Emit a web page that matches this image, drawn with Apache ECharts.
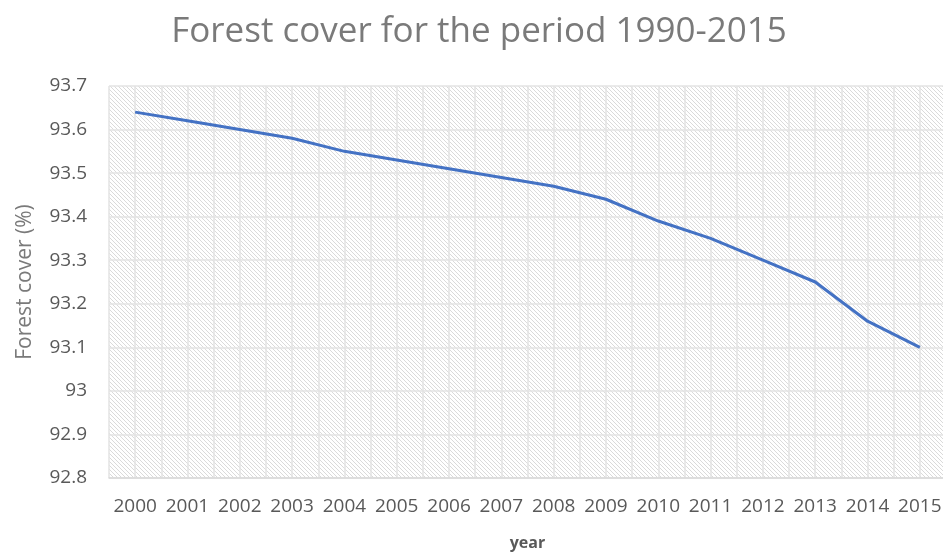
<!DOCTYPE html>
<html>
<head>
<meta charset="utf-8">
<script src="https://cdn.jsdelivr.net/npm/echarts@6/dist/echarts.min.js"></script>
<style>
  html, body { margin: 0; padding: 0; background: #fff; }
  #main { width: 943px; height: 552px; }
</style>
</head>
<body>
<div id="main"></div>
<script>
// data
const years = [2000, 2001, 2002, 2003, 2004, 2005, 2006, 2007, 2008, 2009, 2010, 2011, 2012, 2013, 2014, 2015];
const forestCover = [93.64, 93.62, 93.60, 93.58, 93.55, 93.53, 93.51, 93.49, 93.47, 93.44, 93.39, 93.35, 93.30, 93.25, 93.16, 93.10];

// diagonal hatch for the plot background
function makeHatch() {
  const c = document.createElement('canvas');
  c.width = 4; c.height = 4;
  const ctx = c.getContext('2d');
  ctx.strokeStyle = '#dadada';
  ctx.lineWidth = 1;
  ctx.beginPath();
  ctx.moveTo(-1, -1); ctx.lineTo(5, 5);
  ctx.moveTo(-1, 3); ctx.lineTo(1, 5);
  ctx.moveTo(3, -1); ctx.lineTo(5, 1);
  ctx.stroke();
  return c;
}

const chart = echarts.init(document.getElementById('main'));
const font = "'Open Sans', 'Noto Sans', sans-serif";

chart.setOption({
  animation: false,
  title: {
    text: 'Forest cover for the period 1990-2015',
    left: 474,
    textAlign: 'center',
    top: 10,
    textStyle: { fontFamily: font, fontSize: 35, fontWeight: 'normal', color: '#7a7a7a' }
  },
  grid: {
    left: 109, top: 86, width: 837, height: 392,
    outerBoundsMode: 'none',
    containLabel: false,
    show: true,
    borderWidth: 0,
    backgroundColor: { image: makeHatch(), repeat: 'repeat' }
  },
  xAxis: {
    type: 'value',
    min: 1999.5,
    max: 2015.5,
    interval: 0.5,
    name: 'year',
    nameLocation: 'middle',
    nameGap: 57,
    nameTextStyle: { fontFamily: font, fontSize: 16, fontWeight: 'bold', color: '#595959' },
    axisLine: { show: true, lineStyle: { color: '#d9d9d9', width: 1.5 } },
    axisTick: { show: false },
    axisLabel: {
      fontFamily: font, fontSize: 19, color: '#595959', margin: 19,
      formatter: v => (v % 1 === 0 ? String(v) : '')
    },
    splitLine: { show: true, lineStyle: { color: '#e3e3e3', width: 1.5 } }
  },
  yAxis: {
    type: 'value',
    min: 92.8,
    max: 93.7,
    interval: 0.1,
    name: 'Forest cover (%)',
    nameLocation: 'middle',
    nameGap: 73,
    nameTextStyle: { fontFamily: font, fontSize: 21, color: '#7a7a7a' },
    axisLine: { show: false },
    axisTick: { show: false },
    axisLabel: { fontFamily: font, fontSize: 19, color: '#595959', margin: 22 },
    splitLine: { show: true, lineStyle: { color: '#e3e3e3', width: 1.5 } }
  },
  series: [{
    type: 'line',
    data: years.map((y, i) => [y, forestCover[i]]),
    symbol: 'none',
    lineStyle: { color: '#4472c4', width: 3 }
  }]
});
</script>
</body>
</html>
